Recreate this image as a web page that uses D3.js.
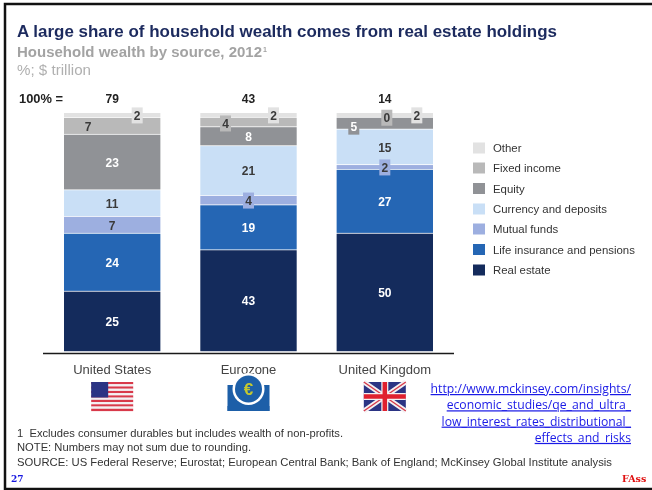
<!DOCTYPE html>
<html><head><meta charset="utf-8">
<script src="https://cdn.jsdelivr.net/npm/d3@7"></script>
<style>html,body{margin:0;padding:0;background:#fff}svg{display:block}
text{font-family:"Liberation Sans",Arial,sans-serif;white-space:pre}</style></head><body>
<svg id="c" width="652" height="490"></svg>
<script>
const countries=["United States","Eurozone","United Kingdom"];
const totals=[79,43,14];
const seriesNames=["Real estate","Life insurance and pensions","Mutual funds","Currency and deposits","Equity","Fixed income","Other"];
const realEstate=[25,43,50];
const lifeInsurance=[24,19,27];
const mutualFunds=[7,4,2];
const currency=[11,21,15];
const equity=[23,8,5];
const fixedIncome=[7,4,0];
const other=[2,2,2];
const seriesValues=[realEstate,lifeInsurance,mutualFunds,currency,equity,fixedIncome,other];
const colors=["#142b5c","#2566b4","#9dafe0","#c9dff6","#909296","#b9b9b9","#e2e2e2"];
const labelColors=["#fff","#fff","#333","#333","#fff","#333","#333"];
const footnotes=["1  Excludes consumer durables but includes wealth of non-profits.","NOTE: Numbers may not sum due to rounding.","SOURCE: US Federal Reserve; Eurostat; European Central Bank; Bank of England; McKinsey Global Institute analysis"];
const linkLines=["http://www.mckinsey.com/insights/","economic_studies/qe_and_ultra_","low_interest_rates_distributional_","effects_and_risks"];

const svg=d3.select("#c");
svg.append("rect").attr("x",5).attr("y",4).attr("width",660).attr("height",485).attr("fill","#fff").attr("stroke","#111").attr("stroke-width",2.5);
const soft=svg.append("g").attr("style","filter:blur(0.4px)");

const T=(t,x,y,size,fill,opt={})=>{const e=soft.append("text").attr("x",x).attr("y",y).attr("font-size",size).attr("fill",fill).attr("font-weight",opt.w||"normal").attr("text-anchor",opt.a||"start").text(t);if(opt.len)e.attr("textLength",opt.len).attr("lengthAdjust","spacingAndGlyphs");if(opt.ff)e.style("font-family",opt.ff);return e;};

T("A large share of household wealth comes from real estate holdings",17,37,16.6,"#1c2a5e",{w:"bold",len:540});
T("Household wealth by source, 2012",17,57,14.4,"#a3a3a3",{w:"bold",len:245});
T("1",263,52,7,"#a3a3a3",{w:"bold"});
T("%; $ trillion",17,75,14,"#b0b0b0",{len:74});

const x=d3.scaleBand().domain(countries).range([64,433]).paddingInner(0.293).paddingOuter(0);
const y=d3.scaleLinear().domain([0,1]).range([352,113]);
const rows=countries.map((c,i)=>{const r={country:c};seriesNames.forEach((s,k)=>r[s]=seriesValues[k][i]);return r;});
const stacked=d3.stack().keys(seriesNames).offset(d3.stackOffsetExpand)(rows);

stacked.forEach((layer,k)=>{
  soft.append("g").selectAll("rect").data(layer).join("rect")
   .attr("x",d=>x(d.data.country)).attr("width",x.bandwidth())
   .attr("y",d=>y(d[1])).attr("height",d=>Math.max(0,y(d[0])-y(d[1])-0.8))
   .attr("fill",colors[k]);
});

soft.append("line").attr("x1",43).attr("x2",454).attr("y1",353.5).attr("y2",353.5).attr("stroke","#1a1a1a").attr("stroke-width",1.6);

const offs={"0-Other":[25,0],"0-Fixed income":[-24,0],"1-Other":[25,0],"1-Fixed income":[-23,1],"2-Other":[32,0],"2-Fixed income":[2,0],"2-Equity":[-31,3]};
stacked.forEach((layer,k)=>{
  layer.forEach((d,i)=>{
    const name=seriesNames[k];
    const o=offs[i+"-"+name]||[0,0];
    const cx=x(countries[i])+x.bandwidth()/2+o[0];
    const cy=(y(d[0])+y(d[1]))/2+o[1];
    const v=seriesValues[k][i];
    const small=(y(d[0])-y(d[1]))<15;
    if(small){
      soft.append("rect").attr("x",cx-5.5).attr("y",cy-8).attr("width",11).attr("height",16).attr("fill",colors[k]);
    }
    T(v,cx,cy+4.3,12,labelColors[k]==="#333"?"#3a3a3a":"#fff",{a:"middle",w:"bold"});
  });
});

T("100% =",19,103,12.5,"#222",{w:"bold",len:44});
countries.forEach((c,i)=>T(totals[i],x(c)+x.bandwidth()/2,103,12,"#222",{a:"middle",w:"bold"}));

seriesNames.forEach((s,k)=>{
  const r=[270,249.5,229,209,188.5,168,148][k];
  soft.append("rect").attr("x",473).attr("y",r-5.5).attr("width",12).attr("height",11).attr("fill",colors[k]);
  T(s,493,r+4,11.4,"#333");
});

countries.forEach((c,i)=>T(c,x(c)+x.bandwidth()/2,373.5,13,"#444",{a:"middle"}));

const cxs=countries.map(c=>x(c)+x.bandwidth()/2);
(function(){
  const g=soft.append("g").attr("transform",`translate(${cxs[0]-21},382)`);
  d3.range(13).forEach(i=>g.append("rect").attr("x",0).attr("y",i*29/13).attr("width",42).attr("height",29/13+0.1).attr("fill",i%2?"#f3f0f2":"#d8394a"));
  g.append("rect").attr("width",17).attr("height",15.5).attr("fill","#2b3484");
})();
(function(){
  const g=soft.append("g").attr("transform",`translate(${cxs[1]},0)`);
  g.append("rect").attr("x",-21).attr("y",385).attr("width",42).attr("height",26).attr("fill","#1d5fa8");
  g.append("circle").attr("cx",0).attr("cy",389).attr("r",16).attr("fill","#fff");
  g.append("circle").attr("cx",0).attr("cy",389).attr("r",13.5).attr("fill","#1d5fa8");
  g.append("rect").attr("x",-21).attr("y",406).attr("width",42).attr("height",5).attr("fill","#1d5fa8");
  g.append("text").attr("x",0).attr("y",395).attr("text-anchor","middle").attr("font-size",17).attr("font-weight","bold").attr("fill","#c4c830").text("€");
})();
(function(){
  const g=soft.append("g").attr("transform",`translate(${cxs[2]-21},382)`);
  g.append("rect").attr("width",42).attr("height",29).attr("fill","#2b3484");
  g.append("path").attr("d","M0,0L42,29M42,0L0,29").attr("stroke","#f3f0f2").attr("stroke-width",5);
  g.append("path").attr("d","M0,0L42,29M42,0L0,29").attr("stroke","#d8394a").attr("stroke-width",1.4);
  g.append("path").attr("d","M21,0V29M0,14.5H42").attr("stroke","#f3f0f2").attr("stroke-width",7);
  g.append("path").attr("d","M21,0V29M0,14.5H42").attr("stroke","#e0202e").attr("stroke-width",4.5);
})();

linkLines.forEach((l,i)=>T(l,631,393+i*16.3,12.2,"#1a1ae6",{a:"end",ff:"'Open Sans',sans-serif"}).attr("text-decoration","underline"));

T(footnotes[0],17,436.5,10.8,"#333",{len:326});
T(footnotes[1],17,450.5,10.8,"#333",{len:234});
T(footnotes[2],17,465.5,10.8,"#333",{len:595});
T("27",11,482,9,"#1616e0",{w:"bold",ff:"'DejaVu Serif',serif"});
T("FAss",622,482,9.5,"#e01010",{w:"bold",ff:"'DejaVu Serif',serif"});
</script></body></html>
